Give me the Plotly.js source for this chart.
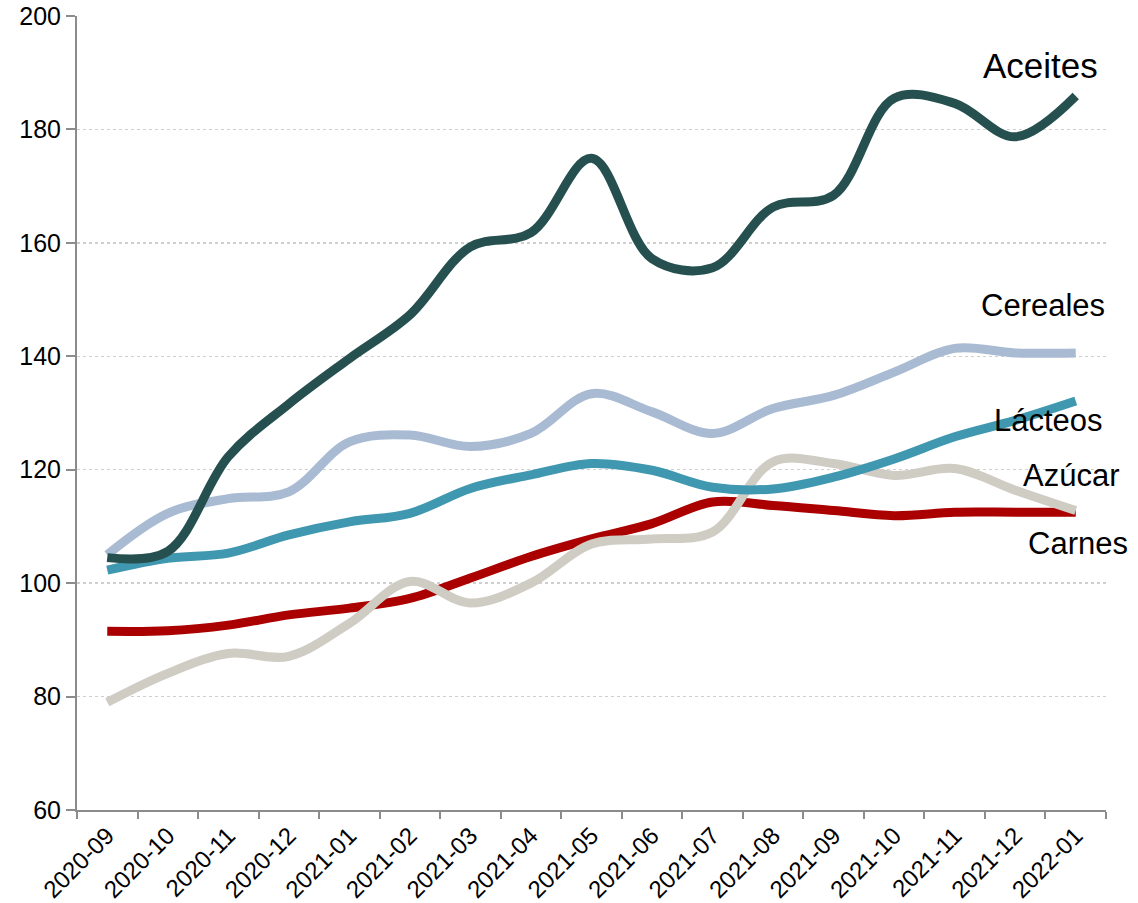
<!DOCTYPE html>
<html>
<head>
<meta charset="utf-8">
<script src="https://cdn.plot.ly/plotly-3.0.1.min.js"></script>
<style>html,body{margin:0;padding:0;background:#fff}#chart{width:1138px;height:903px}</style>
</head>
<body>
<div id="chart"></div>
<script>
const months = ["2020-09","2020-10","2020-11","2020-12","2021-01","2021-02","2021-03","2021-04","2021-05","2021-06","2021-07","2021-08","2021-09","2021-10","2021-11","2021-12","2022-01"];
const aceites  = [104.5,105.6,122.3,131.6,139.6,147.3,159.3,161.8,174.9,157.2,155.6,166.3,168.4,185.5,184.6,178.7,185.9];
const cereales = [105.0,112.3,114.9,116.1,124.9,126.1,124.1,126.4,133.4,130.2,126.4,130.8,133.1,137.2,141.4,140.6,140.6];
const lacteos  = [102.3,104.4,105.3,108.5,110.8,112.3,116.7,119.1,121.1,119.9,116.9,116.6,118.7,121.9,125.8,128.7,132.1];
const carnes   = [91.5,91.6,92.6,94.4,95.6,97.3,100.9,104.7,107.8,110.5,114.3,113.7,112.8,111.9,112.5,112.5,112.5];
const azucar   = [79.0,84.1,87.6,87.1,92.9,100.3,96.5,100.0,106.9,107.8,109.0,121.4,121.1,119.0,120.2,116.4,112.8];
const seriesNames = ["Aceites","Cereales","Lácteos","Azúcar","Carnes"];
const yTicks = [60,80,100,120,140,160,180,200];

const FONT = "'Liberation Sans Narrow', 'Arial Narrow', 'Liberation Sans', Arial, sans-serif";

function tr(y, color){
  return {x: months, y: y, type: 'scatter', mode: 'lines',
    line: {color: color, width: 9, shape: 'spline', smoothing: 1},
    hoverinfo: 'skip', showlegend: false};
}
const data = [
  tr(carnes, '#AA0000'),
  tr(azucar, '#CFCCC4'),
  tr(lacteos, '#3F98AF'),
  tr(cereales, '#A9BBD3'),
  tr(aceites, '#25504F')
];

function ann(text, x, y, size){
  return {text: text, xref: 'paper', yref: 'paper', x: x, y: y,
    xanchor: 'center', yanchor: 'middle', showarrow: false,
    font: {family: FONT, size: size, color: '#000'}};
}

const layout = {
  width: 1138, height: 903,
  margin: {l: 77, r: 32, t: 16, b: 93},
  paper_bgcolor: '#fff', plot_bgcolor: '#fff',
  font: {family: FONT, color: '#000', size: 24},
  xaxis: {
    type: 'category', range: [-0.5, 16.5], tickson: 'boundaries',
    showgrid: false, zeroline: false,
    showline: true, linecolor: '#8c8c8c', linewidth: 2,
    ticks: 'outside', ticklen: 7, tickwidth: 2, tickcolor: '#8c8c8c',
    tickangle: -45, tickfont: {family: FONT, size: 24, color: '#000'},
    fixedrange: true
  },
  yaxis: {
    range: [60, 200], tickvals: yTicks, ticktext: yTicks.map(String),
    showgrid: true, gridcolor: '#cfcfcf', gridwidth: 1.5, griddash: 'dot',
    zeroline: false, showline: true, linecolor: '#8c8c8c', linewidth: 2,
    ticks: 'outside', ticklen: 9, tickwidth: 2, tickcolor: '#8c8c8c',
    tickfont: {family: FONT, size: 25, color: '#000'},
    fixedrange: true
  },
  annotations: [
    ann(seriesNames[0], 0.936, 0.938, 35),
    ann(seriesNames[1], 0.939, 0.636, 31),
    ann(seriesNames[2], 0.944, 0.491, 31),
    ann(seriesNames[3], 0.966, 0.421, 31),
    ann(seriesNames[4], 0.973, 0.336, 31)
  ]
};

Plotly.newPlot('chart', data, layout, {displayModeBar: false, staticPlot: true});
</script>
</body>
</html>
